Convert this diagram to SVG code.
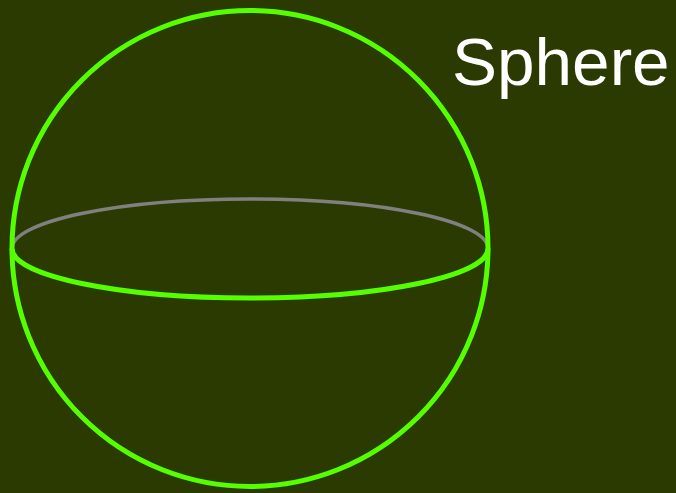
<svg xmlns="http://www.w3.org/2000/svg" width="676" height="493" viewBox="0 0 676 493">
<style>
.g{fill:none;stroke:#55ff00;stroke-width:5}
.back{fill:none;stroke:#808080;stroke-width:3.5}
.t{font-family:"Liberation Sans",Arial,sans-serif;fill:#ffffff}
</style>
<rect width="676" height="493" fill="#2b3a00"/>
<g id="sphere">
<path class="back" d="M12,248.5 A238,49.5 0 0 1 488,248.5"/>
<path class="g" d="M12,248.5 A238,49.5 0 0 0 488,248.5"/>
<circle class="g" cx="250" cy="248.5" r="238"/>
</g>
<text class="t" x="452" y="85" font-size="67.5">Sphere</text>
</svg>
